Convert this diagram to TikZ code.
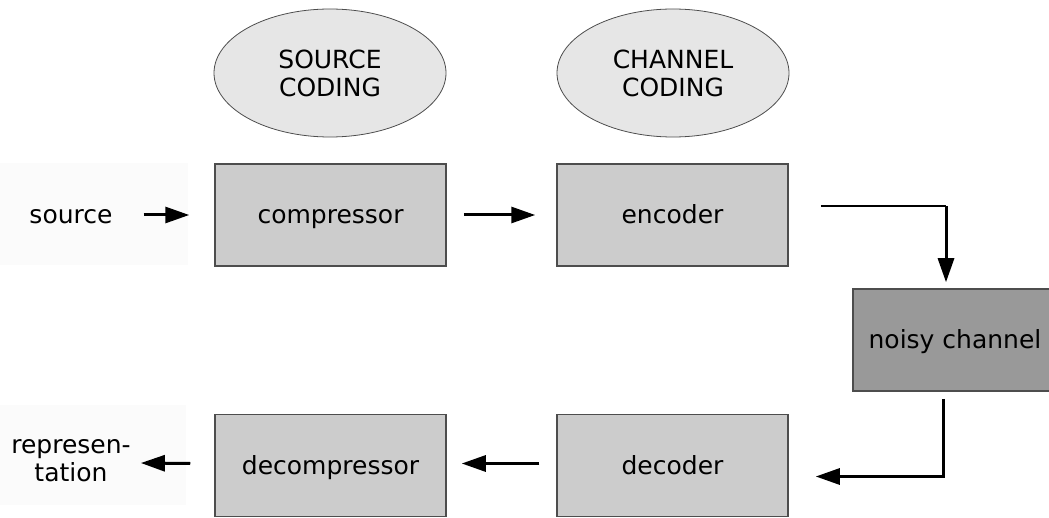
\documentclass[tikz,border=0pt]{standalone}
\usepackage{fontspec}
\setmainfont{DejaVu Sans}
\usetikzlibrary{arrows.meta,shapes.geometric}
\definecolor{boxfill}{HTML}{CCCCCC}
\definecolor{noisefill}{HTML}{999999}
\definecolor{ellfill}{HTML}{E6E6E6}
\definecolor{edge}{HTML}{4D4D4D}
\definecolor{labelbg}{HTML}{FBFBFB}
\tikzset{
  stagebox/.style={draw=edge, line width=1.5pt, fill=boxfill, minimum width=231pt, minimum height=102pt, inner sep=0pt, text height=20pt, text depth=3pt},
  noisebox/.style={draw=edge, line width=1.5pt, fill=noisefill, minimum width=204pt, minimum height=102pt, inner sep=0pt, text height=20pt, text depth=3pt},
  ell/.style={ellipse, draw=edge, line width=0.8pt, fill=ellfill, minimum width=232pt, minimum height=128pt, inner sep=0pt, align=center},
  plainlabel/.style={inner sep=0pt, align=center},
  arr/.style={line width=3pt, -{Triangle[length=24pt,width=16pt]}},
  thinline/.style={line width=2pt}
}
\begin{document}
\begin{tikzpicture}[x=1pt,y=-1pt,font=\fontsize{25}{28}\selectfont]
\useasboundingbox (0,0) rectangle (1049,518);
\clip (0,0) rectangle (1049,518);
% faint label backgrounds
\fill[labelbg] (0,163) rectangle (188,265);
\fill[labelbg] (0,405) rectangle (186,505);
% ellipses
\node[ell] (sc) at (330,73) {SOURCE\\CODING};
\node[ell] (cc) at (673,73) {CHANNEL\\CODING};
% boxes
\node[stagebox] (comp) at (330.5,215) {compressor};
\node[stagebox] (enc) at (672.5,215) {encoder};
\node[noisebox] (noisy) at (955,340) {noisy channel};
\node[stagebox] (dec) at (672.5,465.5) {decoder};
\node[stagebox] (decomp) at (330.5,465.5) {decompressor};
% labels
\node[plainlabel, text height=20pt, text depth=3pt] (src) at (71,215) {source};
\node[plainlabel] (rep) at (71,461) {represen-\\tation};
% connectors
\draw[arr] ([xshift=31pt]src.east) -- ([xshift=-25pt]comp.west);
\draw[arr] ([xshift=17pt]comp.east) -- ([xshift=-21pt]enc.west);
\coordinate (corner1) at ([xshift=-9pt]noisy.north |- 0,206);
\draw[thinline] ([xshift=32pt,yshift=9pt]enc.east) -- (corner1);
\draw[arr] (corner1) -- ([xshift=-9pt,yshift=6pt]noisy.north);
\draw[arr] ([xshift=-12pt,yshift=-7pt]noisy.south) |- ([xshift=27pt,yshift=-11pt]dec.east);
\draw[arr] ([xshift=-17pt,yshift=2pt]dec.west) -- ([xshift=15pt,yshift=2pt]decomp.east);
\coordinate (repend) at ([xshift=10pt]rep.east |- 0,463);
\draw[arr] ([xshift=-24pt,yshift=2pt]decomp.west) -- (repend);
\end{tikzpicture}
\end{document}
